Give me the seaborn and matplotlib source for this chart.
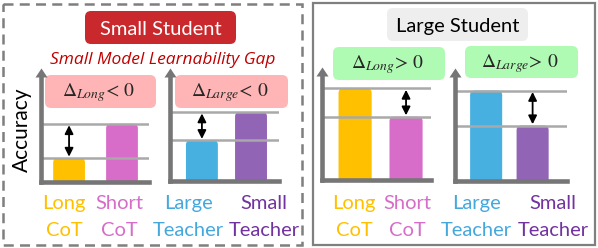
import numpy as np
import pandas as pd
import matplotlib
matplotlib.use("Agg")
import matplotlib.pyplot as plt
import seaborn as sns
from matplotlib.patches import FancyBboxPatch, Rectangle

# ---------------- data ----------------
small_cot_cats = ["Long CoT", "Short CoT"]
small_cot_acc = [21, 51]
small_teacher_cats = ["Large Teacher", "Small Teacher"]
small_teacher_acc = [36, 61]
large_cot_cats = ["Long CoT", "Short CoT"]
large_cot_acc = [81, 56]
large_teacher_cats = ["Large Teacher", "Small Teacher"]
large_teacher_acc = [80, 49]

cot_labels = ["Long\nCoT", "Short\nCoT"]
teacher_labels = ["Large\nTeacher", "Small\nTeacher"]
delta_texts = [r"$\Delta_{Long}$< 0", r"$\Delta_{Large}$< 0",
               r"$\Delta_{Long}$> 0", r"$\Delta_{Large}$> 0"]
panel_titles = ["Small Student", "Large Student"]
subtitle = "Small Model Learnability Gap"
ylabel = "Accuracy"

# ---------------- style ----------------
cot_colors = ["#FFC000", "#D76CC9"]
teacher_colors = ["#47B0E0", "#9264B5"]
cot_text_colors = ["#FFC000", "#D76CC9"]
teacher_text_colors = ["#45A8DD", "#7232A0"]
AXIS_GRAY = "#767676"
LINE_GRAY = "#A9A9A9"

sns.set_theme(style="white")
plt.rcParams["font.family"] = ["Lato", "DejaVu Sans"]
plt.rcParams["mathtext.fontset"] = "stix"

W, H = 598, 248
fig = plt.figure(figsize=(W / 100, H / 100), dpi=100)
bg = fig.add_axes([0, 0, 1, 1])
bg.set_xlim(0, W)
bg.set_ylim(H, 0)
bg.axis("off")

# panel borders
bg.add_patch(Rectangle((3, 4), 299, 241, fill=False, ec="#7F7F7F", lw=1.8,
                       ls=(0, (4, 2.5))))
bg.add_patch(Rectangle((313, 3), 282, 242, fill=False, ec="#7F7F7F", lw=1.6))


def rbox(x0, y0, x1, y1, fc, r=6):
    bg.add_patch(FancyBboxPatch((x0, y0), x1 - x0, y1 - y0,
                                boxstyle=f"round,pad=0,rounding_size={r}",
                                fc=fc, ec="none"))


# titles
rbox(85, 11, 236, 44, "#C9282D")
bg.text(160.5, 35, panel_titles[0], color="white", fontsize=14.5,
        ha="center", va="baseline")
rbox(387, 8, 528, 41, "#EEEEEE")
bg.text(458, 32, panel_titles[1], color="black", fontsize=14.5,
        ha="center", va="baseline")
bg.text(163, 64, subtitle, color="#C00000", fontsize=12.5, style="italic",
        family=["Open Sans", "DejaVu Sans"], ha="center", va="baseline")
bg.text(28, 130, ylabel, fontsize=15, rotation=90, rotation_mode="anchor",
        ha="center", va="baseline", color="black")

# sub-chart layout (pixels): x0, x1, y_bottom, y_tip, bar centre spacing, xlim, bar width
specs = [
    dict(cats=small_cot_cats, acc=small_cot_acc, colors=cot_colors,
         labels=cot_labels, tcolors=cot_text_colors,
         x0=41, x1=149, yb=182, yt=68, sp=53, xlim=(-0.53, 1.51), bw=0.60,
         lab_x=[64, 119], box=(45, 75, 156, 108), bc="#FFB5B5", delta=delta_texts[0]),
    dict(cats=small_teacher_cats, acc=small_teacher_acc, colors=teacher_colors,
         labels=teacher_labels, tcolors=teacher_text_colors,
         x0=170, x1=279, yb=181, yt=68, sp=49, xlim=(-0.65, 1.57), bw=0.65,
         lab_x=[188, 264], box=(175, 75, 288, 108), bc="#FFB5B5", delta=delta_texts[1]),
    dict(cats=large_cot_cats, acc=large_cot_acc, colors=cot_colors,
         labels=cot_labels, tcolors=cot_text_colors,
         x0=322, x1=431, yb=180, yt=67, sp=51, xlim=(-0.65, 1.49), bw=0.65,
         lab_x=[354, 407], box=(333, 47, 445, 80), bc="#B0FBB3", delta=delta_texts[2]),
    dict(cats=large_teacher_cats, acc=large_teacher_acc, colors=teacher_colors,
         labels=teacher_labels, tcolors=teacher_text_colors,
         x0=455, x1=567, yb=181, yt=68, sp=46.5, xlim=(-0.67, 1.74), bw=0.69,
         lab_x=[476, 553], box=(465, 46, 578, 78), bc="#B0FBB3", delta=delta_texts[3]),
]

for s in specs:
    # delta box
    bx0, by0, bx1, by1 = s["box"]
    rbox(bx0, by0, bx1, by1, s["bc"], r=6)
    bg.text((bx0 + bx1) / 2 - 2, (by0 + by1) / 2 + 5, s["delta"],
            fontsize=14, family="STIXGeneral", ha="center", va="baseline")

    # bar axes
    hpx = s["yb"] - s["yt"]
    ax = fig.add_axes([s["x0"] / W, 1 - s["yb"] / H, (s["x1"] - s["x0"]) / W, hpx / H])
    ax.patch.set_alpha(0)
    df = pd.DataFrame({"cat": s["cats"], "acc": s["acc"]})
    sns.barplot(data=df, x="cat", y="acc", hue="cat", palette=s["colors"],
                width=s["bw"], saturation=1, legend=False, ax=ax)
    ax.set_xlim(*s["xlim"])
    ax.set_ylim(0, 100)

    # rounded tops
    r = 4.5 / s["sp"]
    asp = s["sp"] * 100 / hpx
    for p in list(ax.patches):
        x, w, h = p.get_x(), p.get_width(), p.get_height()
        fc = p.get_facecolor()
        p.remove()
        ax.add_patch(FancyBboxPatch((x, -6), w, h + 6,
                                    boxstyle=f"round,pad=0,rounding_size={r}",
                                    mutation_aspect=asp, fc=fc, ec="none", zorder=1))

    for v in s["acc"]:
        ax.axhline(v, color=LINE_GRAY, lw=1.8, zorder=3)

    i = int(np.argmin(s["acc"]))
    ax.annotate("", xy=(i, max(s["acc"])), xytext=(i, min(s["acc"])),
                arrowprops=dict(arrowstyle="<|-|>,head_length=0.5,head_width=0.25",
                                color="black", lw=1.3, shrinkA=1, shrinkB=1,
                                mutation_scale=10), zorder=4)

    ax.set_xticks([])
    ax.set_yticks([])
    ax.set_xlabel("")
    ax.set_ylabel("")
    for side in ["top", "right"]:
        ax.spines[side].set_visible(False)
    for side in ["left", "bottom"]:
        ax.spines[side].set_color(AXIS_GRAY)
        ax.spines[side].set_linewidth(3.3)
        ax.spines[side].set_zorder(5)
    ax.spines["left"].set_bounds(0, 93)

    # arrow head of the y axis
    bg.plot([s["x0"]], [s["yt"] + 9], marker=[(-6, 0), (6, 0), (0, 9)],
            ms=13, color=AXIS_GRAY, mec="none", zorder=6)

    # category labels
    for lab, lx, tc in zip(s["labels"], s["lab_x"], s["tcolors"]):
        l1, l2 = lab.split("\n")
        bg.text(lx, 209, l1, color=tc, fontsize=14.5, ha="center", va="baseline")
        bg.text(lx, 236, l2, color=tc, fontsize=14.5, ha="center", va="baseline")

fig.savefig("out.png", dpi=100)
